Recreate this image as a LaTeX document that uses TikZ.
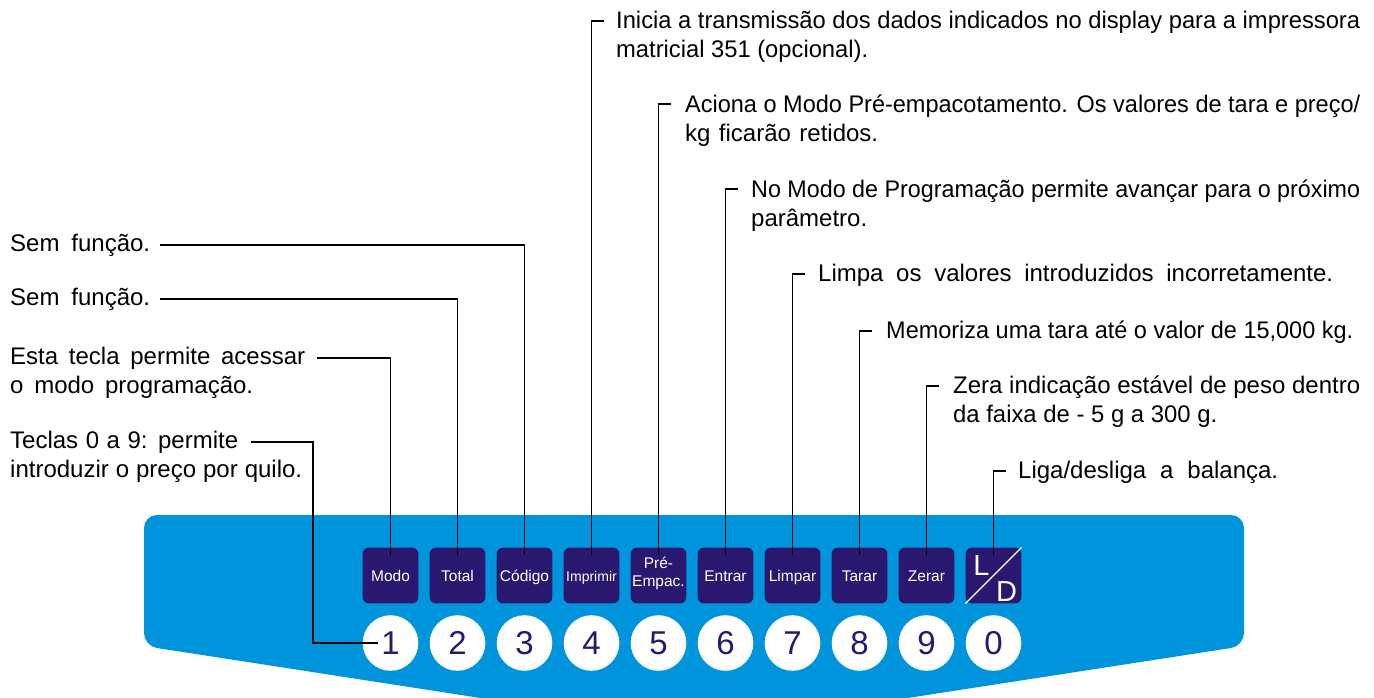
\documentclass[tikz,border=0pt]{standalone}
\usepackage{fontspec}
\setmainfont{Liberation Sans}
\usepackage{graphicx}
\definecolor{panel}{RGB}{0,148,221}
\definecolor{navy}{RGB}{42,24,112}
\newlength\fitw
\newcommand\fitline[2]{\settowidth{\fitw}{#2}\ifdim\fitw<#1\relax\makebox[#1][s]{#2}\else\resizebox{#1}{\height}{#2}\fi}
\begin{document}
\begin{tikzpicture}[x=1pt,y=-1pt,
  conn/.style={line width=1.3pt, black},
  keybox/.style={fill=navy, rounded corners=6pt, minimum width=55.6pt, minimum height=55.6pt, inner sep=0pt, text=white, font=\fontsize{15.5}{17}\selectfont, text height=11pt, text depth=0pt},
  keylab/.style={anchor=base, inner sep=0pt, text=white, font=\fontsize{15.5}{17}\selectfont},
  ldlab/.style={anchor=base, inner sep=0pt, text=white, font=\fontsize{29}{31}\selectfont},
  digit/.style={circle, fill=white, minimum size=55.6pt, inner sep=0pt, text=navy, font=\fontsize{33}{40}\selectfont},
  ltxt/.style={anchor=base west, inner sep=0pt, font=\fontsize{24}{29}\selectfont},
  rtxt/.style={anchor=base west, inner sep=0pt, font=\fontsize{24}{29}\selectfont}]
\useasboundingbox (0,0) rectangle (1374,697);
% panel
\fill[panel, rounded corners=13pt] (144,515) -- (1244,515) -- (1244,646) -- (694,731) -- (144,646) -- cycle;
% keys
\foreach \i/\t in {1/Modo, 2/Total, 3/Código, 4/{\fontsize{14}{15}\selectfont Imprimir}, 5/{}, 6/Entrar, 7/Limpar, 8/Tarar, 9/Zerar, 10/{}}{
  \node[keybox] (k\i) at ({390.5+67*(\i-1)},575.5) {\t};
}
\foreach \i/\d in {1/1, 2/2, 3/3, 4/4, 5/5, 6/6, 7/7, 8/8, 9/9, 10/0}{
  \node[digit] (d\i) at ({390.5+67*(\i-1)},643) {\d};
}
\node[keylab] (k5a) at (658.5,568.4) {Pré-};
\node[keylab] (k5b) at (658.5,586.6) {Empac.};
\draw[white, line width=1.2pt] (k10.south west) -- (k10.north east);
\node[ldlab] (k10a) at (981.5,575.5) {L};
\node[ldlab] (k10b) at (1006.5,601) {D};
% left texts
\node[ltxt] (l1) at (10,251) {\fitline{140pt}{Sem função.}};
\node[ltxt] (l2) at (10,305) {\fitline{140pt}{Sem função.}};
\node[ltxt] (l3a) at (10,364) {\fitline{295pt}{Esta tecla permite acessar}};
\node[ltxt] (l3b) at (10,393) {\fitline{243pt}{o modo programação.}};
\node[ltxt] (l4a) at (10,448) {\fitline{228pt}{Teclas 0 a 9: permite}};
\node[ltxt] (l4b) at (10,477) {\fitline{292pt}{introduzir o preço por quilo.}};
% right texts
\node[rtxt] (r1a) at (616,28) {\fitline{744pt}{Inicia a transmissão dos dados indicados no display para a impressora}};
\node[rtxt] (r1b) at (616,57) {\fitline{252pt}{matricial 351 (opcional).}};
\node[rtxt] (r2a) at (685,112) {\fitline{675pt}{Aciona o Modo Pré-empacotamento. Os valores de tara e preço/}};
\node[rtxt] (r2b) at (685,141) {\fitline{193pt}{kg ficarão retidos.}};
\node[rtxt] (r3a) at (751,197) {\fitline{609pt}{No Modo de Programação permite avançar para o próximo}};
\node[rtxt] (r3b) at (751,226) {parâmetro.};
\node[rtxt] (r4) at (818,281) {\fitline{515pt}{Limpa os valores introduzidos incorretamente.}};
\node[rtxt] (r5) at (886,338) {\fitline{467pt}{Memoriza uma tara até o valor de 15,000 kg.}};
\node[rtxt] (r6a) at (953,393) {\fitline{407pt}{Zera indicação estável de peso dentro}};
\node[rtxt] (r6b) at (953,422) {\fitline{264pt}{da faixa de - 5 g a 300 g.}};
\node[rtxt] (r7) at (1018,478) {\fitline{260pt}{Liga/desliga a balança.}};
% connectors left
\coordinate (lc1) at (160,245);
\coordinate (lc2) at (160,299);
\coordinate (lc3) at (317,358);
\coordinate (lc4) at (251,442);
\coordinate (e4) at (313,442);
\draw[conn] (lc1) -| ([yshift=-7pt]k3.north);
\draw[conn] (lc2) -| ([yshift=-7pt]k2.north);
\draw[conn] (lc3) -| ([yshift=-7pt]k1.north);
\draw[conn] (lc4) -- (e4) |- ([xshift=-12.5pt]d1.center);
% connectors right
\coordinate (rc1) at (604,21);
\coordinate (rc2) at (671,104);
\coordinate (rc3) at (738,189);
\coordinate (rc4) at (805,274);
\coordinate (rc5) at (872,331);
\coordinate (rc6) at (939,386);
\coordinate (rc7) at (1006,471);
\draw[conn] ([yshift=-7pt]k4.north) |- (rc1);
\draw[conn] ([yshift=-7pt]k5.north) |- (rc2);
\draw[conn] ([yshift=-7pt]k6.north) |- (rc3);
\draw[conn] ([yshift=-7pt]k7.north) |- (rc4);
\draw[conn] ([yshift=-7pt]k8.north) |- (rc5);
\draw[conn] ([yshift=-7pt]k9.north) |- (rc6);
\draw[conn] ([yshift=-7pt]k10.north) |- (rc7);
\end{tikzpicture}
\end{document}
